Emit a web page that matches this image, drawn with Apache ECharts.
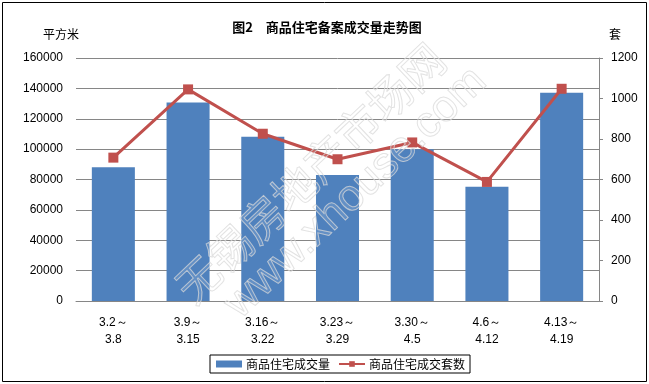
<!DOCTYPE html>
<html>
<head>
<meta charset="utf-8">
<script src="https://cdn.jsdelivr.net/npm/echarts@6/dist/echarts.min.js"></script>
<style>
html,body{margin:0;padding:0;background:#fff;}
#c{width:649px;height:384px;}
</style>
</head>
<body>
<div id="c"></div>
<script>
var categories = ['3.2～\n3.8','3.9～\n3.15','3.16～\n3.22','3.23～\n3.29','3.30～\n4.5','4.6～\n4.12','4.13～\n4.19'];
var areaValues = [88000, 130700, 108100, 83000, 100000, 75200, 137100];
var unitValues = [708, 1045, 826, 700, 783, 588, 1048];
var leftTicks = {min: 0, max: 160000, interval: 20000};
var rightTicks = {min: 0, max: 1200, interval: 200};

var cjk = '"Noto Sans CJK SC", sans-serif';
var num = '"Liberation Sans", Arial, sans-serif';
var plain = function (v) { return String(v); };
var chart = echarts.init(document.getElementById('c'), null, {renderer: 'canvas'});
chart.setOption({
  animation: false,
  backgroundColor: '#fff',
  title: {
    text: '图2　商品住宅备案成交量走势图',
    left: 322, top: 16, textAlign: 'center',
    textStyle: {fontFamily: cjk, fontSize: 13, fontWeight: 'bold', color: '#000'}
  },
  grid: {left: 76, right: 50, top: 58, bottom: 83},
  legend: {
    left: 210, top: 355,
    padding: [3, 5, 3, 6],
    borderColor: '#000', borderWidth: 1,
    itemWidth: 26, itemHeight: 7, itemGap: 8,
    textStyle: {fontFamily: cjk, fontSize: 12, color: '#000', padding: [0, 0, 0, -1]},
    data: [{name: '商品住宅成交量', icon: 'rect'}, {name: '商品住宅成交套数'}]
  },
  xAxis: {
    type: 'category', data: categories,
    axisLine: {show: true, lineStyle: {color: '#868686', width: 1}},
    axisTick: {show: false},
    axisLabel: {fontFamily: num, fontSize: 12, color: '#000', lineHeight: 17, margin: 13}
  },
  yAxis: [{
    type: 'value', min: leftTicks.min, max: leftTicks.max, interval: leftTicks.interval,
    name: '平方米', nameLocation: 'end', nameGap: 18,
    nameTextStyle: {fontFamily: cjk, fontSize: 12, color: '#000', align: 'right', padding: [0, -3, 0, 0]},
    axisLine: {show: false}, axisTick: {show: false},
    axisLabel: {fontFamily: num, fontSize: 12, color: '#000', margin: 13, formatter: plain},
    splitLine: {show: true, lineStyle: {color: '#868686', width: 1}}
  }, {
    type: 'value', min: rightTicks.min, max: rightTicks.max, interval: rightTicks.interval,
    name: '套', nameLocation: 'end', nameGap: 18,
    nameTextStyle: {fontFamily: cjk, fontSize: 12, color: '#000', align: 'left', padding: [0, 0, 0, 10]},
    axisLine: {show: true, lineStyle: {color: '#868686', width: 1}},
    axisTick: {show: true, length: 4, inside: false, lineStyle: {color: '#868686'}},
    axisLabel: {fontFamily: num, fontSize: 12, color: '#000', margin: 12, formatter: plain},
    splitLine: {show: false}
  }],
  series: [{
    name: '商品住宅成交量', type: 'bar', yAxisIndex: 0, data: areaValues,
    barWidth: '57.6%',
    itemStyle: {color: '#4F81BD'}
  }, {
    name: '商品住宅成交套数', type: 'line', yAxisIndex: 1, data: unitValues,
    symbol: 'rect', symbolSize: 10,
    lineStyle: {color: '#C0504D', width: 3},
    itemStyle: {color: '#C0504D'}
  }],
  graphic: [{
    type: 'text', x: 310, y: 173, rotation: 0.76, z: 100, silent: true,
    style: {text: '无锡房地产市场网', fontFamily: cjk, fontSize: 44, align: 'center', verticalAlign: 'middle',
            fill: 'rgba(255,255,255,0.12)', stroke: 'rgba(215,215,215,0.75)', lineWidth: 1}
  }, {
    type: 'text', x: 356, y: 193, rotation: 0.76, z: 100, silent: true,
    style: {text: 'www.xhouse.com', fontFamily: num, fontSize: 44, align: 'center', verticalAlign: 'middle',
            fill: 'rgba(255,255,255,0.12)', stroke: 'rgba(215,215,215,0.75)', lineWidth: 1}
  }, {
    type: 'rect', z: 100, silent: true,
    shape: {x: 2.5, y: 2.5, width: 644, height: 379},
    style: {fill: null, stroke: '#000', lineWidth: 1}
  }]
});
</script>
</body>
</html>
